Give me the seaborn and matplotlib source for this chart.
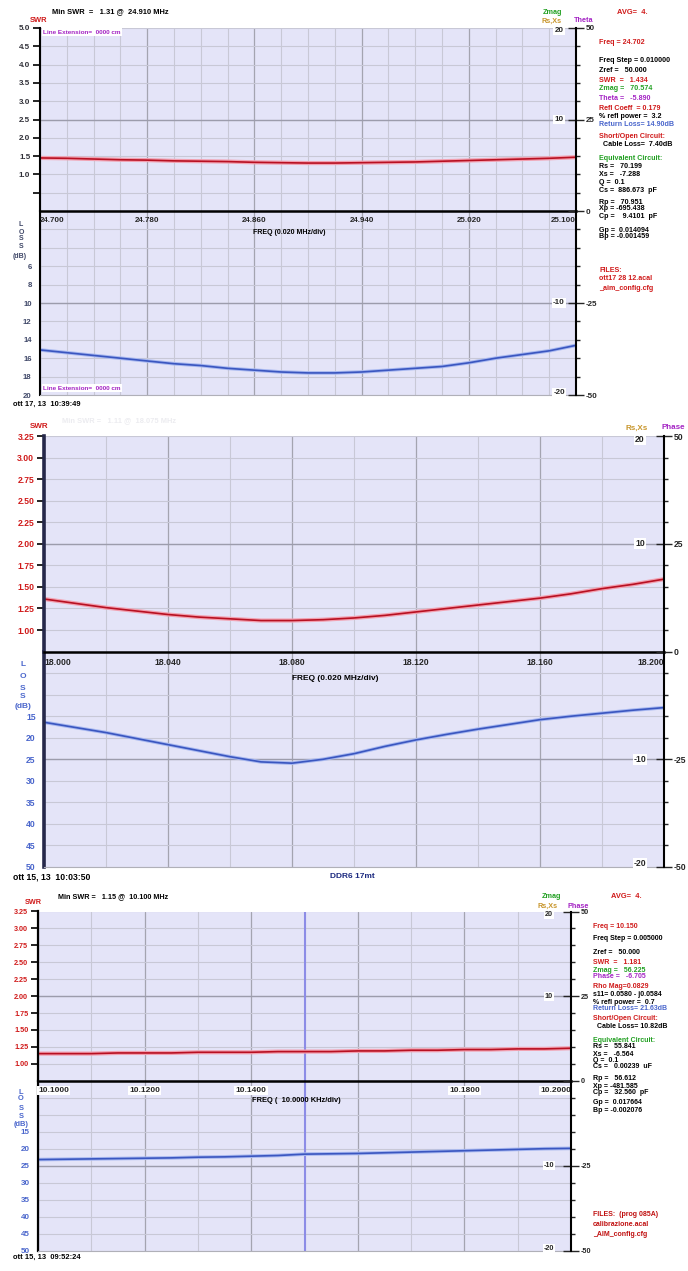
import matplotlib
matplotlib.use("Agg")
import matplotlib.pyplot as plt
import seaborn as sns
import numpy as np

W, H = 688, 1271

# ---- sweep 1 : 24.700 - 25.100 MHz (ott 17) ----
freq_24 = [24.70, 24.72, 24.74, 24.76, 24.78, 24.80, 24.82, 24.84, 24.86, 24.88,
           24.90, 24.92, 24.94, 24.96, 24.98, 25.00, 25.02, 25.04, 25.06, 25.08, 25.10]
swr_24 = [1.45, 1.44, 1.42, 1.40, 1.39, 1.37, 1.36, 1.35, 1.33, 1.32,
          1.31, 1.31, 1.32, 1.33, 1.34, 1.36, 1.38, 1.40, 1.42, 1.44, 1.47]
loss_24 = [15.1, 15.4, 15.7, 16.0, 16.3, 16.6, 16.8, 17.1, 17.3, 17.5,
           17.6, 17.6, 17.5, 17.3, 17.1, 16.9, 16.5, 16.0, 15.6, 15.2, 14.6]
xticks_24 = [24.70, 24.78, 24.86, 24.94, 25.02, 25.10]
xlabels_24 = ["24.700", "24.780", "24.860", "24.940", "25.020", "25.100"]

# ---- sweep 2 : 18.000 - 18.200 MHz (DDR6 17mt) ----
freq_18 = [18.00, 18.01, 18.02, 18.03, 18.04, 18.05, 18.06, 18.07, 18.08, 18.09,
           18.10, 18.11, 18.12, 18.13, 18.14, 18.15, 18.16, 18.17, 18.18, 18.19, 18.20]
swr_18 = [1.36, 1.31, 1.26, 1.22, 1.18, 1.15, 1.13, 1.11, 1.11, 1.12,
          1.14, 1.17, 1.21, 1.25, 1.29, 1.33, 1.37, 1.42, 1.48, 1.53, 1.59]
loss_18 = [16.4, 17.6, 18.8, 20.2, 21.6, 23.0, 24.4, 25.6, 25.9, 25.0,
           23.7, 22.0, 20.5, 19.2, 18.0, 16.9, 15.8, 15.0, 14.3, 13.6, 13.0]
xticks_18 = [18.00, 18.04, 18.08, 18.12, 18.16, 18.20]
xlabels_18 = ["18.000", "18.040", "18.080", "18.120", "18.160", "18.200"]

# ---- sweep 3 : 10.100 - 10.200 MHz ----
freq_10 = [10.100, 10.105, 10.110, 10.115, 10.120, 10.125, 10.130, 10.135, 10.140, 10.145,
           10.150, 10.155, 10.160, 10.165, 10.170, 10.175, 10.180, 10.185, 10.190, 10.195, 10.200]
swr_10 = [1.15, 1.15, 1.15, 1.16, 1.16, 1.16, 1.17, 1.17, 1.17, 1.18,
          1.18, 1.18, 1.19, 1.19, 1.20, 1.20, 1.21, 1.21, 1.22, 1.22, 1.23]
loss_10 = [23.2, 23.1, 23.0, 22.9, 22.8, 22.7, 22.5, 22.4, 22.2, 22.0,
           21.6, 21.5, 21.4, 21.2, 21.0, 20.8, 20.6, 20.4, 20.2, 20.0, 19.9]
xticks_10 = [10.10, 10.12, 10.14, 10.16, 10.18, 10.20]
xlabels_10 = ["10.1000", "10.1200", "10.1400", "", "10.1800", "10.2000"]
cursor_10 = 10.150

sns.set_style("white")
plt.rcParams["font.family"] = ["Liberation Sans", "DejaVu Sans"]
plt.rcParams["font.weight"] = "bold"

BG = "#e4e4f8"
RED = "#d01a1a"
GREEN = "#22a022"
PURPLE = "#a424c4"
ORANGE = "#c8962c"
BLUE = "#4a66cc"
NAVY = "#1c2a80"

fig = plt.figure(figsize=(W / 100, H / 100), dpi=100)


def rect(l, t, r, b):
    return [l / W, 1 - b / H, (r - l) / W, (b - t) / H]


def put(x, y, s, color="black", size=5.6, ha="left", **kw):
    fig.text(x / W, 1 - y / H, s, color=color, fontsize=size, ha=ha, va="center", **kw)


def draw_panel(box, freq, swr, loss, xticks, xlabels, xstep,
               swr_ticks, swr_labels, swr_lim, loss_ticks, loss_labels, loss_lim,
               swr_col, loss_col, left_col, left_lw, inner_dx, fs, xfs, lfs,
               label_box=False):
    l, t, mid, r, b = box
    ax_loss = fig.add_axes(rect(l, mid, r, b))
    ax_swr = fig.add_axes(rect(l, t, r, mid))
    minor = np.arange(xticks[0], xticks[-1] + xstep / 2, xstep)
    for ax in (ax_loss, ax_swr):
        ax.set_facecolor(BG)
        ax.set_xlim(xticks[0], xticks[-1])
        ax.set_xticks(xticks)
        ax.set_xticks(minor, minor=True)
        ax.grid(True, which="major", axis="x", color="#a4a4b0", lw=0.9)
        ax.grid(True, which="minor", axis="x", color="#c8c8d6", lw=0.8)
        ax.grid(True, which="major", axis="y", color="#c8c8d6", lw=0.8)
        ax.set_axisbelow(True)
        ax.spines["top"].set_visible(False)
        ax.spines["right"].set_visible(False)
        ax.spines["left"].set_color(left_col)
        ax.spines["left"].set_linewidth(left_lw)
    ax_loss.spines["bottom"].set_color("#b0b0b8")
    ax_swr.spines["bottom"].set_color("black")
    ax_swr.spines["bottom"].set_linewidth(1.8)

    # SWR half
    ax_swr.set_ylim(*swr_lim)
    ax_swr.set_yticks(swr_ticks, labels=swr_labels)
    ax_swr.axhline(np.mean(swr_lim), color="#9c9cac", lw=1.0, zorder=1)
    sns.lineplot(x=freq, y=swr, ax=ax_swr, color="#f2a0b0", lw=3.0)
    sns.lineplot(x=freq, y=swr, ax=ax_swr, color="#b81022", lw=1.2)
    ax_swr.tick_params(axis="y", direction="out", length=5, width=1.2, color="black",
                       labelcolor=swr_col, labelsize=fs, pad=2)
    ax_swr.tick_params(axis="x", which="major", direction="inout", length=7, width=1.2,
                       labelsize=xfs, pad=1)
    ax_swr.tick_params(axis="x", which="minor", direction="inout", length=4, width=1)
    ax_swr.set_xticklabels(xlabels)
    labs = ax_swr.get_xticklabels()
    labs[0].set_horizontalalignment("left")
    labs[-1].set_horizontalalignment("right")
    if label_box:
        for lb in labs:
            if lb.get_text():
                lb.set_bbox(dict(facecolor="white", edgecolor="none", pad=1))

    # loss half (inverted)
    ax_loss.set_ylim(*loss_lim)
    ax_loss.set_yticks(loss_ticks, labels=loss_labels)
    ax_loss.axhline(np.mean(loss_lim), color="#9c9cac", lw=1.0, zorder=1)
    sns.lineplot(x=freq, y=loss, ax=ax_loss, color="#a8b8f0", lw=2.6)
    sns.lineplot(x=freq, y=loss, ax=ax_loss, color="#3a56c0", lw=1.2)
    ax_loss.tick_params(axis="y", length=0, labelcolor=loss_col, labelsize=lfs, pad=6)
    ax_loss.tick_params(axis="x", which="both", length=0, labelbottom=False)
    for ax in (ax_loss, ax_swr):
        ax.set_xlabel("")
        ax.set_ylabel("")

    # right hand scales (Rs,Xs inside, Phase outside)
    for ax, lim, major, mlabels in ((ax_swr, (0, 50), [0, 25, 50], ["0", "25", "50"]),
                                    (ax_loss, (-50, 0), [-50, -25], ["-50", "-25"])):
        tw = ax.twinx()
        tw.set_ylim(*lim)
        tw.set_yticks(major, labels=mlabels)
        tw.set_yticks(np.arange(lim[0] + 5, lim[1], 5), minor=True)
        tw.tick_params(axis="y", which="major", direction="inout", length=12, width=1,
                       labelsize=fs, pad=1)
        tw.tick_params(axis="y", which="minor", direction="out", length=3, width=1)
        for s in ("top", "left", "bottom"):
            tw.spines[s].set_visible(False)
        tw.spines["right"].set_color("black")
        tw.spines["right"].set_linewidth(1.5)
    xin = 1 - inner_dx / (r - l)
    wb = dict(facecolor="white", edgecolor="none", pad=0.8)
    for ax, ypos, s in ((ax_swr, 0.985, "20"), (ax_swr, 0.5, "10"),
                        (ax_loss, 0.5, "-10"), (ax_loss, 0.015, "-20")):
        ax.text(xin, ypos, s, transform=ax.transAxes, ha="center", va="center",
                fontsize=fs, bbox=wb, zorder=5)
    return ax_swr, ax_loss


# ================= panel 1 =================
p1 = (40, 28, 211, 576, 395)
draw_panel(p1, freq_24, swr_24, loss_24, xticks_24, xlabels_24, 0.02,
           [0.5, 1.0, 1.5, 2.0, 2.5, 3.0, 3.5, 4.0, 4.5, 5.0],
           ["", "1.0", "1.5", "2.0", "2.5", "3.0", "3.5", "4.0", "4.5", "5.0"], (0, 5.0),
           [2, 4, 6, 8, 10, 12, 14, 16, 18, 20],
           ["", "", "6", "8", "10", "12", "14", "16", "18", "20"], (20, 0),
           "#303038", "#404868", "black", 1.5, 17, 5.8, 5.8, 5.6)
put(52, 12, "Min SWR  =   1.31 @  24.910 MHz", size=5.4)
put(30, 20, "SWR", RED, size=5.4)
put(543, 12, "Zmag", GREEN, size=5.2)
put(542, 21, "Rs,Xs", ORANGE, size=5.2)
put(574, 21, "Theta", PURPLE, size=5.2)
put(617, 12, "AVG=  4.", RED, size=5.4)
put(43, 32, "Line Extension=  0000 cm", PURPLE, size=4.6,
    bbox=dict(facecolor="white", edgecolor="none", pad=1))
put(43, 388, "Line Extension=  0000 cm", PURPLE, size=4.6,
    bbox=dict(facecolor="white", edgecolor="none", pad=1))
put(253, 233, "FREQ (0.020 MHz/div)", size=5.0)
for yy, s in ((224, "L"), (232, "O"), (239, "S"), (247, "S")):
    put(21, yy, s, "#404868", size=5.0, ha="center")
put(20, 257, "(dB)", "#404868", size=5.0, ha="center")
put(13, 404, "ott 17, 13  10:39:49", size=5.4)
info_1 = [(43, "Freq = 24.702", RED), (61, "Freq Step = 0.010000", "black"),
          (71, "Zref =   50.000", "black"), (81, "SWR  =   1.434", RED),
          (89, "Zmag =   70.574", GREEN), (98, "Theta =   -5.890", PURPLE),
          (109, "Refl Coeff  = 0.179", RED), (117, "% refl power =  3.2", "black"),
          (125, "Return Loss= 14.90dB", BLUE), (137, "Short/Open Circuit:", RED),
          (145, "  Cable Loss=  7.40dB", "black"), (158, "Equivalent Circuit:", GREEN),
          (166, "Rs =   70.199", "black"), (174, "Xs =   -7.288", "black"),
          (182, "Q =  0.1", "black"), (191, "Cs =  886.673  pF", "black"),
          (202, "Rp =   70.951", "black"), (209, "Xp = -695.438", "black"),
          (217, "Cp =    9.4101  pF", "black"), (230, "Gp =  0.014094", "black"),
          (237, "Bp = -0.001459", "black"), (270, "FILES:", RED),
          (279, "ott17 28 12.acal", RED), (288, "_aim_config.cfg", RED)]
for yy, s, c in info_1:
    put(599, yy, s, c, size=5.1)

# ================= panel 2 =================
p2 = (44, 436, 651.6, 664, 867)
draw_panel(p2, freq_18, swr_18, loss_18, xticks_18, xlabels_18, 0.02,
           [1.00, 1.25, 1.50, 1.75, 2.00, 2.25, 2.50, 2.75, 3.00, 3.25],
           ["1.00", "1.25", "1.50", "1.75", "2.00", "2.25", "2.50", "2.75", "3.00", "3.25"],
           (0.75, 3.25),
           [5, 10, 15, 20, 25, 30, 35, 40, 45, 50],
           ["", "", "15", "20", "25", "30", "35", "40", "45", "50"], (50, 0),
           RED, BLUE, "#26284a", 2.6, 24, 6.2, 6.2, 6.2)
put(30, 426, "SWR", RED, size=5.8)
put(62, 421, "Min SWR =   1.11 @  18.075 MHz", "#ececf0", size=5.4)
put(625, 428, "Rs,Xs", ORANGE, size=5.8)
put(661, 428, "Phase", PURPLE, size=5.8)
put(292, 678, "FREQ (0.020 MHz/div)", size=6.0)
for yy, s in ((665, "L"), (677, "O"), (688, "S"), (697, "S")):
    put(23, yy, s, BLUE, size=6.0, ha="center")
put(23, 706, "(dB)", BLUE, size=6.0, ha="center")
put(13, 877, "ott 15, 13  10:03:50", size=6.2)
put(330, 877, "DDR6 17mt", NAVY, size=6.0)

# ================= panel 3 =================
p3 = (38, 911.5, 1080.7, 571, 1250.7)
ax3s, ax3l = draw_panel(p3, freq_10, swr_10, loss_10, xticks_10, xlabels_10, 0.01,
                        [1.00, 1.25, 1.50, 1.75, 2.00, 2.25, 2.50, 2.75, 3.00, 3.25],
                        ["1.00", "1.25", "1.50", "1.75", "2.00", "2.25", "2.50", "2.75",
                         "3.00", "3.25"], (0.75, 3.25),
                        [5, 10, 15, 20, 25, 30, 35, 40, 45, 50],
                        ["", "", "15", "20", "25", "30", "35", "40", "45", "50"], (50, 0),
                        RED, BLUE, "black", 1.6, 22, 5.2, 6.0, 5.8, label_box=True)
for ax in (ax3s, ax3l):
    ax.axvline(cursor_10, color="#8c8ce6", lw=1.5, zorder=1.5)
put(58, 897, "Min SWR =   1.15 @  10.100 MHz", size=5.2)
put(25, 903, "SWR", RED, size=5.2)
put(542, 897, "Zmag", GREEN, size=5.2)
put(538, 906, "Rs,Xs", ORANGE, size=5.2)
put(568, 906, "Phase", PURPLE, size=5.2)
put(611, 897, "AVG=  4.", RED, size=5.4)
put(252, 1100, "FREQ (  10.0000 KHz/div)", size=5.4)
for yy, s in ((1092, "L"), (1099, "O"), (1108, "S"), (1117, "S")):
    put(21, yy, s, BLUE, size=5.4, ha="center")
put(21, 1124, "(dB)", BLUE, size=5.4, ha="center")
put(13, 1257, "ott 15, 13  09:52:24", size=5.4)
info_3 = [(927, "Freq = 10.150", RED), (939, "Freq Step = 0.005000", "black"),
          (952, "Zref =   50.000", "black"), (962, "SWR  =   1.181", RED),
          (970, "Zmag =   56.225", GREEN), (977, "Phase =   -6.705", PURPLE),
          (987, "Rho Mag=0.0829", RED), (995, "s11= 0.0580 - j0.0584", "black"),
          (1002, "% refl power =  0.7", "black"), (1009, "Return Loss= 21.63dB", BLUE),
          (1019, "Short/Open Circuit:", RED), (1026, "  Cable Loss= 10.82dB", "black"),
          (1040, "Equivalent Circuit:", GREEN), (1047, "Rs =   55.841", "black"),
          (1054, "Xs =   -6.564", "black"), (1061, "Q =  0.1", "black"),
          (1067, "Cs =   0.00239  uF", "black"), (1079, "Rp =   56.612", "black"),
          (1086, "Xp = -481.585", "black"), (1093, "Cp =   32.560  pF", "black"),
          (1103, "Gp =  0.017664", "black"), (1111, "Bp = -0.002076", "black"),
          (1215, "FILES:  (prog 085A)", "#c01010"), (1225, "calibrazione.acal", "#c01010"),
          (1234, "_AIM_config.cfg", "#c01010")]
for yy, s, c in info_3:
    put(593, yy, s, c, size=5.0)

fig.savefig("out.png", dpi=100)
